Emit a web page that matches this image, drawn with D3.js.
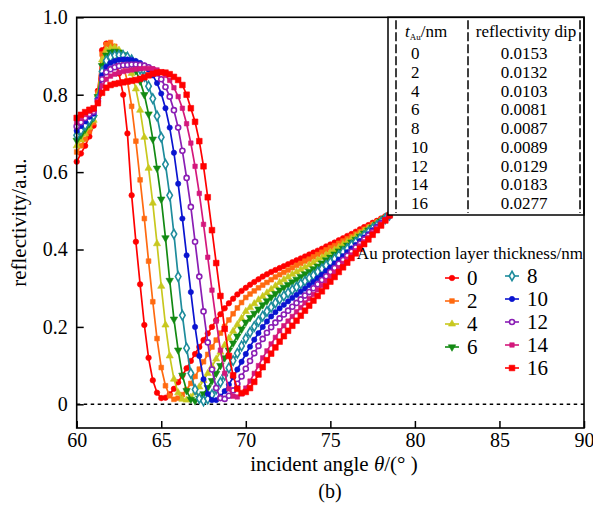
<!DOCTYPE html>
<html>
<head>
<meta charset="utf-8">
<script src="https://cdn.jsdelivr.net/npm/d3@7"></script>
<style>
  body { margin: 0; background: #fff; }
</style>
</head>
<body>
<script>
// incident angles (deg)
let angles = [60, 60.25, 60.5, 60.75, 61, 61.25, 61.5, 61.75, 62, 62.25, 62.5, 62.75, 63, 63.25, 63.5, 63.75,
  64, 64.25, 64.5, 64.75, 65, 65.25, 65.5, 65.75, 66, 66.25, 66.5, 66.75, 67, 67.25, 67.5, 67.75,
  68, 68.25, 68.5, 68.75, 69, 69.25, 69.5, 69.75, 70, 70.25, 70.5, 70.75, 71, 71.25, 71.5, 71.75,
  72, 72.25, 72.5, 72.75, 73, 73.25, 73.5, 73.75, 74, 74.25, 74.5, 74.75, 75, 75.25, 75.5, 75.75,
  76, 76.25, 76.5, 76.75, 77, 77.25, 77.5, 77.75, 78, 78.25, 78.5];

// reflectivity for each Au thickness
let r0 = [.627, .648, .668, .692, .72, .81, .915, .932, .925, .895, .855, .80, .70, .54, .42, .31,
  .205, .12, .062, .03, .016, .017, .026, .04, .057, .075, .093, .112, .13, .148, .166, .183,
  .20, .217, .233, .248, .261, .273, .284, .293, .301, .309, .316, .323, .33, .336, .342, .347,
  .352, .357, .362, .367, .372, .377, .382, .387, .392, .397, .402, .408, .413, .418, .424, .429,
  .435, .44, .446, .452, .458, .463, .469, .474, .48, .486, .492];
let r2 = [.652, .668, .685, .705, .728, .805, .905, .93, .935, .925, .905, .875, .835, .77, .68, .58,
  .48, .37, .265, .17, .095, .048, .022, .013, .016, .025, .038, .054, .072, .091, .11, .129,
  .148, .166, .184, .201, .218, .234, .249, .263, .276, .285, .293, .301, .308, .315, .322, .329,
  .335, .341, .347, .353, .359, .364, .37, .375, .381, .387, .393, .399, .405, .41, .416, .422,
  .428, .434, .44, .446, .452, .458, .465, .471, .477, .483, .49];
let r4 = [.668, .683, .699, .716, .734, .80, .89, .915, .921, .922, .915, .90, .88, .855, .815, .76,
  .69, .61, .52, .415, .305, .205, .125, .065, .03, .013, .011, .018, .03, .045, .062, .08,
  .098, .117, .135, .153, .171, .189, .206, .222, .24, .25, .26, .27, .279, .288, .297, .306,
  .315, .322, .329, .336, .342, .348, .354, .36, .366, .373, .379, .386, .393, .399, .406, .413,
  .42, .427, .434, .441, .448, .455, .461, .468, .475, .482, .489];
let r6 = [.682, .696, .711, .726, .741, .795, .875, .902, .91, .912, .91, .903, .893, .88, .862, .835,
  .80, .75, .685, .61, .53, .43, .32, .22, .14, .075, .035, .013, .009, .015, .027, .043,
  .061, .08, .10, .12, .14, .158, .176, .194, .212, .224, .235, .246, .257, .267, .277, .286,
  .295, .302, .309, .316, .323, .33, .337, .343, .35, .357, .365, .373, .38, .388, .396, .403,
  .411, .419, .426, .434, .442, .45, .457, .465, .473, .481, .489];
let r8 = [.695, .708, .721, .735, .746, .79, .86, .888, .897, .901, .902, .901, .897, .89, .88, .866,
  .847, .822, .79, .745, .69, .62, .54, .44, .33, .23, .145, .08, .038, .015, .009, .014,
  .025, .04, .057, .075, .094, .113, .132, .151, .17, .186, .201, .215, .228, .24, .251, .262,
  .272, .28, .288, .296, .303, .311, .318, .326, .333, .342, .35, .359, .367, .376, .385, .393,
  .402, .411, .419, .428, .436, .445, .454, .462, .471, .48, .489];
let r10 = [.707, .719, .731, .743, .751, .787, .85, .872, .882, .887, .89, .891, .891, .89, .887, .882,
  .875, .865, .85, .83, .803, .765, .715, .65, .57, .48, .385, .29, .20, .125, .065, .027,
  .011, .011, .02, .034, .051, .07, .09, .11, .13, .149, .167, .184, .20, .214, .227, .238,
  .248, .257, .266, .275, .283, .291, .299, .308, .316, .326, .335, .345, .354, .364, .374, .383,
  .393, .403, .412, .422, .431, .44, .45, .459, .469, .478, .488];
let r12 = [.718, .729, .74, .75, .756, .784, .84, .858, .866, .871, .874, .876, .877, .878, .878, .877,
  .875, .871, .865, .855, .84, .82, .795, .76, .715, .655, .585, .51, .42, .33, .24, .16,
  .09, .042, .016, .014, .022, .036, .053, .072, .092, .112, .132, .151, .169, .185, .199, .211,
  .222, .232, .242, .252, .262, .271, .281, .29, .30, .31, .321, .331, .342, .352, .363, .373,
  .384, .394, .405, .415, .426, .436, .446, .457, .467, .477, .488];
let r14 = [.729, .739, .749, .757, .761, .781, .823, .84, .848, .853, .857, .86, .862, .864, .866, .867,
  .868, .868, .867, .864, .858, .85, .837, .818, .795, .765, .725, .675, .615, .545, .465, .38,
  .295, .215, .14, .08, .04, .021, .019, .027, .042, .06, .08, .10, .12, .138, .156, .173,
  .19, .203, .215, .227, .239, .25, .262, .273, .284, .296, .307, .318, .33, .341, .352, .364,
  .375, .386, .397, .409, .42, .431, .443, .454, .465, .476, .488];
let r16 = [.74, .748, .755, .761, .765, .778, .805, .818, .825, .828, .83, .832, .834, .836, .838, .841,
  .845, .85, .854, .857, .858, .857, .853, .846, .838, .825, .80, .765, .73, .68, .615, .535,
  .45, .365, .28, .195, .125, .075, .04, .029, .032, .042, .058, .077, .096, .114, .131, .147,
  .162, .176, .19, .203, .216, .229, .242, .255, .268, .28, .292, .305, .317, .329, .342, .354,
  .366, .378, .39, .402, .414, .426, .438, .45, .462, .475, .488];

let thickness = ['0', '2', '4', '6', '8', '10', '12', '14', '16'];
let seriesValues = [r0, r2, r4, r6, r8, r10, r12, r14, r16];

// table of dips
let tableThickness = ['0', '2', '4', '6', '8', '10', '12', '14', '16'];
let tableDip = ['0.0153', '0.0132', '0.0103', '0.0081', '0.0087', '0.0089', '0.0129', '0.0183', '0.0277'];

let xTicks = [60, 65, 70, 75, 80, 85, 90];
let yTicks = [0, 0.2, 0.4, 0.6, 0.8, 1.0];

// styles
let serif = "'Liberation Serif'";
let colors = ['#ff0000', '#ff6a10', '#c8c81e', '#138a13', '#1e8c9c', '#0a14d0', '#8a1eb4', '#d4187c', '#ff0000'];
let shapes = [d3.symbolCircle, d3.symbolSquare, d3.symbolTriangle, d3.symbolTriangle, d3.symbolDiamond,
  d3.symbolCircle, d3.symbolCircle, d3.symbolSquare, d3.symbolSquare];
let sizes = [24, 22, 22, 24, 26, 22, 20, 20, 32];
let rotations = [0, 0, 0, 180, 0, 0, 0, 0, 0];
let hollow = [false, false, false, false, true, false, true, false, false];

let width = 593;
let height = 506;
let margin = {left: 76.7, right: 9, top: 17.3, bottom: 78};

let svg = d3.select('body')
  .append('svg')
  .attr('width', width)
  .attr('height', height);

let x = d3.scaleLinear().domain([60, 90]).range([margin.left, width - margin.right]);
let y = d3.scaleLinear().domain([-0.0612, 1.0]).range([height - margin.bottom, margin.top]);

// dashed zero line
svg.append('line')
  .attr('x1', x(60)).attr('x2', x(90))
  .attr('y1', y(0)).attr('y2', y(0))
  .attr('stroke', '#000')
  .attr('stroke-width', 1.6)
  .attr('stroke-dasharray', '3.5,3.5');

// curves
let line = d3.line()
  .x(function(d, i) { return x(angles[i]); })
  .y(function(d) { return y(d); });

seriesValues.forEach(function(vals, k) {
  let g = svg.append('g');
  g.append('path')
    .attr('d', line(vals))
    .attr('fill', 'none')
    .attr('stroke', colors[k])
    .attr('stroke-width', 1.7);
  g.selectAll('path.m')
    .data(vals)
    .enter()
    .append('path')
    .attr('class', 'm')
    .attr('d', d3.symbol().type(shapes[k]).size(sizes[k]))
    .attr('transform', function(d, i) {
      return 'translate(' + x(angles[i]) + ',' + y(d) + ') rotate(' + rotations[k] + ')';
    })
    .attr('fill', hollow[k] ? '#fff' : colors[k])
    .attr('stroke', colors[k])
    .attr('stroke-width', hollow[k] ? 1.6 : 0.6);
});

// axes
let xAxis = d3.axisBottom(x)
  .tickValues(xTicks)
  .tickSizeInner(-7)
  .tickSizeOuter(0)
  .tickPadding(5);
let gx = svg.append('g')
  .attr('transform', 'translate(0,' + (height - margin.bottom) + ')')
  .call(xAxis);

let yAxis = d3.axisLeft(y)
  .tickValues(yTicks)
  .tickSizeInner(-7)
  .tickSizeOuter(0)
  .tickPadding(9)
  .tickFormat(function(d) { return d === 0 ? '0' : d3.format('.1f')(d); });
let gy = svg.append('g')
  .attr('transform', 'translate(' + margin.left + ',0)')
  .call(yAxis);

[gx, gy].forEach(function(g) {
  g.attr('font-size', 20).attr('font-family', null);
  g.select('.domain').remove();
  g.selectAll('line').attr('stroke', '#000').attr('stroke-width', 1.5);
});

// table box
let tLeft = 388, tBottom = 215;
svg.append('rect')
  .attr('x', tLeft).attr('y', margin.top)
  .attr('width', x(90) - tLeft).attr('height', tBottom - margin.top)
  .attr('fill', '#fff')
  .attr('stroke', '#000')
  .attr('stroke-width', 1.5);

[396, 468, 580].forEach(function(cx) {
  svg.append('line')
    .attr('x1', cx).attr('x2', cx)
    .attr('y1', margin.top + 3).attr('y2', tBottom - 2)
    .attr('stroke', '#000')
    .attr('stroke-width', 1.5)
    .attr('stroke-dasharray', '9,3');
});

let header1 = svg.append('text')
  .attr('x', 405).attr('y', 37)
  .attr('font-size', 17);
header1.append('tspan').attr('font-style', 'italic').text('t');
header1.append('tspan').attr('font-size', 9).attr('dy', 3).text('Au');
header1.append('tspan').attr('dy', -3).text('/nm');

svg.append('text')
  .attr('x', 526).attr('y', 37)
  .attr('text-anchor', 'middle')
  .attr('font-size', 17)
  .text('reflectivity dip');

svg.selectAll('text.tc1')
  .data(tableThickness)
  .enter()
  .append('text')
  .attr('class', 'tc1')
  .attr('x', 411)
  .attr('y', function(d, i) { return 59 + i * 18.75; })
  .attr('font-size', 17)
  .text(function(d) { return d; });

svg.selectAll('text.tc2')
  .data(tableDip)
  .enter()
  .append('text')
  .attr('class', 'tc2')
  .attr('x', 524)
  .attr('y', function(d, i) { return 59 + i * 18.75; })
  .attr('text-anchor', 'middle')
  .attr('font-size', 17)
  .text(function(d) { return d; });

// plot frame
svg.append('rect')
  .attr('x', x(60)).attr('y', y(1.0))
  .attr('width', x(90) - x(60)).attr('height', y(-0.0612) - y(1.0))
  .attr('fill', 'none')
  .attr('stroke', '#000')
  .attr('stroke-width', 1.6);

// legend
svg.append('text')
  .attr('x', 583).attr('y', 259)
  .attr('text-anchor', 'end')
  .attr('font-size', 17)
  .text('Au protection layer thickness/nm');

let legendPos = [
  [452, 278], [452, 301], [452, 324], [452, 347],
  [512, 276], [512, 299], [512, 322], [512, 345], [512, 368]
];
thickness.forEach(function(t, k) {
  let p = legendPos[k];
  let g = svg.append('g').attr('transform', 'translate(' + p[0] + ',' + p[1] + ')');
  g.append('line')
    .attr('x1', -7).attr('x2', 7)
    .attr('stroke', colors[k])
    .attr('stroke-width', 1.6);
  g.append('path')
    .attr('d', d3.symbol().type(shapes[k]).size(sizes[k]))
    .attr('transform', 'rotate(' + rotations[k] + ')')
    .attr('fill', hollow[k] ? '#fff' : colors[k])
    .attr('stroke', colors[k])
    .attr('stroke-width', hollow[k] ? 1.6 : 0.6);
  g.append('text')
    .attr('x', 15).attr('y', 7)
    .attr('font-size', 21)
    .text(t);
});

// axis titles
svg.append('text')
  .attr('transform', 'translate(26,' + ((y(1.0) + y(-0.0612)) / 2) + ') rotate(-90)')
  .attr('text-anchor', 'middle')
  .attr('font-size', 21)
  .text('reflectivity/a.u.');

let xt = svg.append('text')
  .attr('x', 334).attr('y', 471)
  .attr('text-anchor', 'middle')
  .attr('font-size', 21);
xt.append('tspan').text('incident angle ');
xt.append('tspan').attr('font-style', 'italic').text('θ');
xt.append('tspan').text('/(° )');

svg.append('text')
  .attr('x', 330).attr('y', 498)
  .attr('text-anchor', 'middle')
  .attr('font-size', 20)
  .text('(b)');

// serif face for every text
svg.selectAll('text').style('font-family', serif).attr('fill', '#000');
</script>
</body>
</html>
